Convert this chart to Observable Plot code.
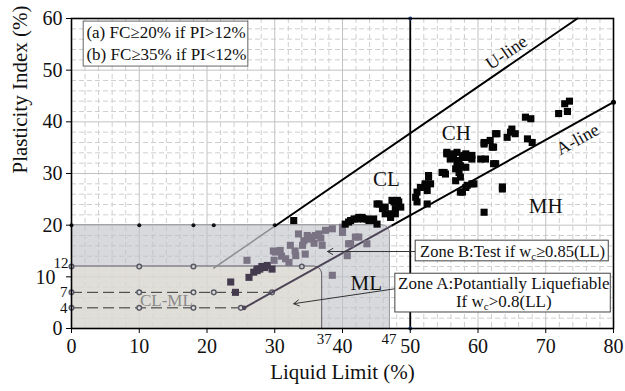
<!DOCTYPE html>
<html><head><meta charset="utf-8">
<script src="https://cdn.jsdelivr.net/npm/d3@7"></script>
<script src="https://cdn.jsdelivr.net/npm/@observablehq/plot@0.6"></script>
<style>
body{margin:0;background:#fff;}
#chart svg{font-family:'Liberation Serif','Times New Roman',serif;background:#fff;}
</style></head><body><div id="chart"></div>
<script>
// ---- data ----
const xTicks = [0,10,20,30,40,50,60,70,80];
const yTicks = [0,10,20,30,40,50,60];
const extraXTicks = [37,47];
const extraYTicks = [4,7,12];

const blackLL = [32.8,40.4,40.9,41.2,41.7,42.2,42.4,42.9,43.1,43.6,43.9,44.4,44.6,45.1,
  45.1,45.4,45.9,46.3,46.3,47.1,47.1,47.3,47.6,47.8,47.8,48.1,48.3,48.6,
  50.8,51.0,51.0,51.5,52.2,52.5,52.5,52.2,52.7,52.7,53.0,
  54.7,55.0,55.2,55.4,55.4,55.9,56.2,56.4,56.7,56.7,56.9,56.9,56.9,57.2,57.2,57.4,57.4,57.4,57.7,57.7,57.9,58.2,58.2,58.2,58.4,58.4,58.6,59.1,59.1,59.1,59.4,
  60.4,60.9,60.9,61.1,60.9,61.8,62.1,62.3,62.6,62.8,62.3,62.6,63.6,63.6,
  64.3,65.0,64.8,65.5,67.0,67.8,67.3,68.0,71.9,73.2,72.8,73.5];
const blackPI = [20.9,20.2,20.6,20.9,21.2,21.2,21.5,21.5,21.2,21.2,20.9,20.9,21.2,20.2,
  24.1,24.1,23.2,22.2,23.5,21.5,22.2,24.8,24.5,23.2,22.2,24.8,24.5,23.5,
  25.4,24.5,26.4,27.3,28.0,26.7,24.1,27.7,29.3,29.6,28.0,
  30.2,30.2,29.9,34.1,33.8,32.8,33.1,33.8,30.9,28.6,34.1,32.5,31.2,32.5,30.2,31.5,29.3,26.4,33.1,26.4,33.5,33.8,31.2,27.3,33.1,27.7,33.1,32.8,33.5,28.0,28.0,
  32.8,36.0,35.7,32.8,22.5,36.4,35.1,35.1,37.7,37.7,31.9,31.9,27.0,27.4,
  37.0,38.6,38.0,37.7,40.9,40.6,36.7,36.0,41.6,42.0,43.5,44.0];

const zoneBLL = [25.9,29.9,29.8,30.1,30.8,31.0,31.6,32.1,32.3,33.0,33.1,33.5,34.1,34.3,34.5,34.8,35.0,35.5,35.8,36.0,36.5,36.8,37.0,37.5,38.5,38.5,40.0,40.0,40.7,40.9,41.2,41.9,42.4,43.6];
const zoneBPI = [13.2,13.2,15.0,14.8,15.1,14.0,13.5,12.8,16.1,15.0,14.1,18.3,16.1,17.0,14.4,18.0,17.3,17.7,16.5,18.0,18.3,17.5,16.1,19.0,19.3,10.3,19.6,18.6,14.1,16.4,16.4,17.7,17.7,16.4];

const zoneALL = [23.5,24.2,26.2,26.9,27.4,27.4,27.8,28.1,28.5,28.9,29.6];
const zoneAPI = [9.0,7.0,9.9,10.9,11.5,11.2,11.5,12.0,11.8,12.2,11.5];

const uLineLL = [21,30,74.67];
const uLinePI = [11.7,19.8,60];
const aLineLL = [25.5,47.4,80];
const aLinePI = [4,20,43.8];

const regionNames = ["CL","CH","MH","ML"];
const regionLL = [46.5,56.8,70,43.5];
const regionPI = [28.8,37.7,23.6,8.7];

const legendLines = ["(a) FC≥20% if PI>12%","(b) FC≥35% if PI<12%"];
const zoneBText = "Zone B:Test if w_c≥0.85(LL)";
const zoneALines = ["Zone A:Potantially Liquefiable","If w_c>0.8(LL)"];

// guide line anchor values
const line20Dots = [0,10,18,21,30];
const line12Dots = [0,10,18,34];
const line7Dots = [0,10,18,21,29.6];
const line4Dots = [0,10,18,25];

// ---- build ----
const pts = (xs, ys) => xs.map((x,i)=>({LL:x, PI:ys[i]}));
const minorX = d3.range(0,81,2).filter(d=>d%10!==0);
const minorY = d3.range(0,61,2).filter(d=>d%10!==0);
const serif = "'Liberation Serif','Times New Roman',serif";

const uL = pts(uLineLL,uLinePI), aL = pts(aLineLL,aLinePI);

const chart = Plot.plot({
  width: 625, height: 391,
  marginLeft: 71, marginRight: 12, marginTop: 18, marginBottom: 63,
  x: {domain:[0,80]},
  y: {domain:[0,60]},
  style: {fontFamily: serif, color:"#111"},
  marks: [
    Plot.ruleX(minorX, {stroke:"#cfcfcf", strokeDasharray:"5,3"}),
    Plot.ruleY(minorY, {stroke:"#cfcfcf", strokeDasharray:"5,3"}),
    Plot.ruleX(xTicks, {stroke:"#c2c2c2"}),
    Plot.ruleY(yTicks, {stroke:"#c2c2c2"}),
    // zones
    Plot.rect([{x1:-6,x2:47,y1:-6,y2:20}], {x1:"x1",x2:"x2",y1:"y1",y2:"y2", fill:"rgb(190,192,197)", fillOpacity:0.6, stroke:"#96969c", rx:8, clip:true}),
    Plot.rect([{x1:-6,x2:37,y1:-6,y2:12}], {x1:"x1",x2:"x2",y1:"y1",y2:"y2", fill:"rgb(229,224,214)", fillOpacity:0.65, stroke:"#5d5766", rx:8, clip:true}),
    // guide lines
    Plot.ruleY([4], {x1:0, x2:aLineLL[0], stroke:"#333", strokeDasharray:"11,5"}),
    Plot.ruleY([7], {x1:0, x2:29.6, stroke:"#333", strokeDasharray:"11,5"}),
    Plot.dot(line20Dots, {x:d=>d, y:20, r:2, fill:"#111"}),
    Plot.dot(line12Dots, {x:d=>d, y:12, r:2.3, fill:"#ccc", stroke:"#5a5a66"}),
    Plot.dot(line7Dots, {x:d=>d, y:7, r:2.3, fill:"#ddd", stroke:"#5a5a66"}),
    Plot.dot(line4Dots, {x:d=>d, y:4, r:2.3, fill:"#ddd", stroke:"#5a5a66"}),
    // U and A lines
    Plot.line(uL.slice(0,2), {x:"LL", y:"PI", stroke:"#8c8c8c", strokeWidth:1.5}),
    Plot.line(uL.slice(1), {x:"LL", y:"PI", stroke:"#000", strokeWidth:2}),
    Plot.line(aL.slice(0,2), {x:"LL", y:"PI", stroke:"#4d4458", strokeWidth:2}),
    Plot.line(aL.slice(1), {x:"LL", y:"PI", stroke:"#000", strokeWidth:2}),
    Plot.dot([aL[2]], {x:"LL", y:"PI", r:2.5, fill:"#000"}),
    Plot.dot([aL[0]], {x:"LL", y:"PI", r:2.3, fill:"#4d4458"}),
    // LL = 50 line
    Plot.ruleX([50], {y1:0, y2:60, stroke:"#000", strokeWidth:1.8}),
    Plot.dot([0,60], {x:50, y:d=>d, r:2, fill:"#2b4a8c"}),
    // points
    Plot.dot(pts(zoneALL,zoneAPI), {x:"LL", y:"PI", symbol:"square", r:4, fill:"#443b4f"}),
    Plot.dot(pts(zoneBLL,zoneBPI), {x:"LL", y:"PI", symbol:"square", r:4, fill:"#7a7384"}),
    Plot.dot(pts(blackLL,blackPI), {x:"LL", y:"PI", symbol:"square", r:4, fill:"#050505"}),
    // region labels
    Plot.text(regionNames, {x:(d,i)=>regionLL[i], y:(d,i)=>regionPI[i], text:d=>d, fontSize:21, fill:"#111"}),
    Plot.text(["CL-ML"], {x:14, y:5.4, text:d=>d, fontSize:17, fill:"#8a8a8a"}),
    Plot.text(["U-line"], {x:64.2, y:53.4, text:d=>d, fontSize:18, rotate:-34.5, fill:"#111"}),
    Plot.text(["A-line"], {x:74.7, y:36.6, text:d=>d, fontSize:18, rotate:-29, fill:"#111"}),
    // legend box
    Plot.rect([0], {x1:1.8, x2:26.1, y1:50.7, y2:59.4, fill:"#fff", stroke:"#666"}),
    Plot.text(legendLines, {x:2.2, y:(d,i)=>[57.2,53.1][i], text:d=>d, textAnchor:"start", fontSize:17, fill:"#111"}),
    // zone label boxes and arrows
    Plot.arrow([0], {x1:50.8, y1:14.9, x2:37.8, y2:14.9, stroke:"#333", strokeWidth:1, headLength:9}),
    Plot.arrow([0], {x1:47.8, y1:7.7, x2:32.8, y2:4.8, stroke:"#333", strokeWidth:1, headLength:9}),
    Plot.rect([0], {x1:50.8, x2:79.3, y1:13.0, y2:17.0, fill:"#fff", stroke:"#444"}),
    Plot.text([zoneBText], {x:65.1, y:14.9, text:d=>d, fontSize:16.5, fill:"#111"}),
    Plot.rect([0], {x1:47.8, x2:79.6, y1:3.1, y2:10.6, fill:"#fff", stroke:"#444"}),
    Plot.text(zoneALines, {x:63.8, y:(d,i)=>[8.7,5.2][i], text:d=>d, fontSize:17, fill:"#111"}),
    // frame + axes
    Plot.frame({stroke:"#000", strokeWidth:1.6}),
    Plot.axisX(xTicks, {tickSize:5, tickPadding:5, fontSize:20, label:null, tickFormat:d=>String(d), stroke:"#000"}),
    Plot.axisY(yTicks, {tickSize:5, tickPadding:4, fontSize:20, label:null, tickFormat:d=>d===10?"":String(d), stroke:"#000"}),
    Plot.text(["10"], {x:0, y:10, text:d=>d, fontSize:20, textAnchor:"end", dx:-16, dy:1, fill:"#111"}),
    Plot.text([extraYTicks[2]], {x:0, y:d=>d, text:d=>String(d), fontSize:15, textAnchor:"end", dx:-3, dy:-3, fill:"#111"}),
    Plot.text(extraYTicks.slice(0,2), {x:0, y:d=>d, text:d=>String(d), fontSize:15, textAnchor:"end", dx:-4, fill:"#111"}),
    Plot.text([extraXTicks[0]], {x:d=>d, y:0, text:d=>String(d), fontSize:15, dx:2, dy:11, fill:"#111"}),
    Plot.text([extraXTicks[1]], {x:d=>d, y:0, text:d=>String(d), fontSize:15, dx:-1, dy:11, fill:"#111"}),
    Plot.text(["Liquid Limit (%)"], {frameAnchor:"bottom", dy:50, text:d=>d, fontSize:21, fill:"#111"}),
    Plot.text(["Plasticity Index (%)"], {frameAnchor:"left", dx:-51, rotate:-90, text:d=>d, fontSize:21, fill:"#111"})
  ]
});

// subscript c in w_c
const NS = "http://www.w3.org/2000/svg";
chart.querySelectorAll("text").forEach(el => {
  if (el.childNodes.length === 1 && el.firstChild.nodeType === 3 && el.textContent.includes("w_c")) {
    const [a, b] = el.textContent.split("w_c");
    el.textContent = a + "w";
    const sub = document.createElementNS(NS, "tspan");
    sub.setAttribute("baseline-shift", "-30%");
    sub.setAttribute("font-size", "0.65em");
    sub.textContent = "c";
    el.append(sub, b);
  }
});
document.getElementById("chart").append(chart);
</script></body></html>
